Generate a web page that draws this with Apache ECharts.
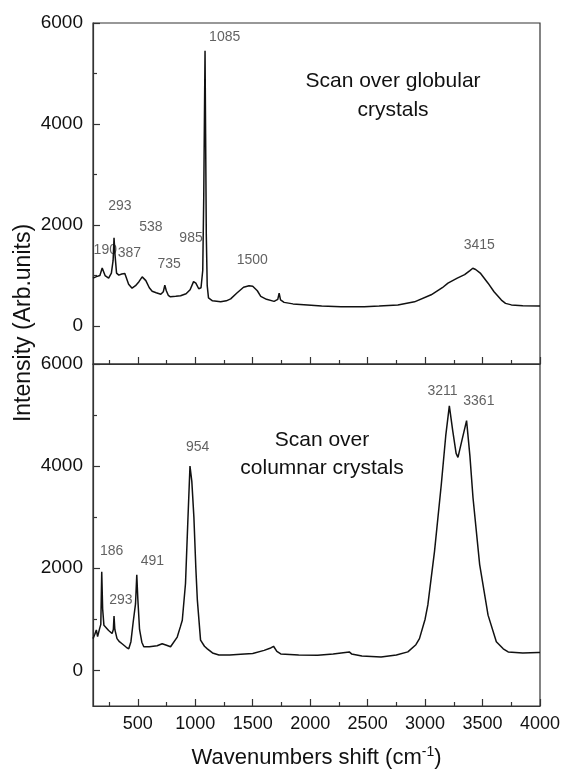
<!DOCTYPE html>
<html>
<head>
<meta charset="utf-8">
<title>Raman spectra</title>
<script src="https://cdn.jsdelivr.net/npm/echarts@6/dist/echarts.min.js"></script>
<style>
  html, body { margin: 0; padding: 0; background: #fff; }
  #chart { width: 562px; height: 775px; }
</style>
</head>
<body>
<div id="chart"></div>
<script>
// Raman spectrum, scan over globular crystals (wavenumber cm-1, intensity)
var globWave = [110, 140, 170, 190, 215, 246, 270, 285, 293, 302, 315, 335, 360, 387, 420, 450, 480, 510,
  538, 570, 600, 625, 660, 700, 722, 735, 748, 765, 784, 830, 872, 920, 955, 985, 1005, 1030, 1050,
  1065, 1074, 1080, 1085, 1090, 1096, 1104, 1115, 1150, 1221, 1270, 1308, 1360, 1420, 1468, 1500,
  1540, 1570, 1620, 1686, 1718, 1730, 1742, 1773, 1850, 1977, 2100, 2268, 2471, 2600, 2763, 2908,
  3053, 3150, 3199, 3280, 3344, 3390, 3415, 3440, 3480, 3548, 3600, 3664, 3700, 3751, 3850, 4000];
var globIntensity = [950, 980, 1000, 1150, 1000, 950, 1050, 1300, 1750, 1400, 1050, 1010, 1030, 1040, 830, 750, 800, 880,
  975, 900, 760, 690, 660, 630, 680, 810, 700, 610, 580, 590, 600, 640, 720, 880, 850, 740, 760,
  1100, 2600, 4200, 5450, 3800, 1800, 800, 560, 500, 480, 500, 540, 650, 770, 800, 790,
  700, 590, 530, 490, 530, 650, 520, 470, 440, 420, 400, 385, 385, 400, 420, 480,
  620, 760, 850, 950, 1020, 1100, 1145, 1120, 1050, 850, 680, 515, 450, 420, 405, 400];

// Raman spectrum, scan over columnar crystals
var colWave = [110, 125, 139, 150, 168, 178, 186, 194, 205, 220, 246, 276, 287, 293, 300, 319, 340, 363, 400,
  421, 440, 460, 480, 491, 500, 515, 535, 552, 600, 668, 712, 750, 785, 843, 870, 887, 915, 935, 954,
  970, 988, 1005, 1018, 1046, 1080, 1105, 1150, 1206, 1300, 1395, 1500, 1599, 1650, 1681, 1710, 1744,
  1900, 2065, 2200, 2340, 2360, 2450, 2617, 2750, 2850, 2920, 2951, 3000, 3024, 3082, 3141, 3180, 3211,
  3240, 3270, 3286, 3320, 3361, 3390, 3417, 3475, 3548, 3620, 3680, 3723, 3850, 3984, 4000];
var colIntensity = [620, 700, 790, 660, 820, 900, 1930, 1200, 880, 860, 780, 720, 800, 1060, 800, 620, 560, 520, 450,
  420, 560, 950, 1300, 1870, 1400, 800, 550, 460, 460, 480, 520, 490, 460, 650, 850, 980, 1700, 2900, 4000,
  3700, 3000, 2000, 1380, 590, 470, 420, 340, 300, 300, 315, 330, 390, 430, 470, 370, 320,
  300, 295, 320, 360, 320, 280, 260, 300, 360, 500, 620, 1000, 1280, 2330, 3640, 4600, 5180,
  4700, 4250, 4170, 4500, 4890, 4200, 3380, 2070, 1080, 560, 420, 360, 340, 350, 350];

// Peak annotations: text, and the anchor (wavenumber, intensity) of each text
var globPeakText = ['190', '293', '387', '538', '735', '985', '1085', '1500', '3415'];
var globPeakX = [217, 344, 427, 614, 773, 963, 1256, 1496, 3472];
var globPeakY = [1505, 2376, 1452, 1966, 1228, 1737, 5729, 1307, 1604];
var colPeakText = ['186', '293', '491', '954', '3211', '3361'];
var colPeakX = [272, 353, 627, 1020, 3151, 3468];
var colPeakY = [2329, 1378, 2132, 4364, 5478, 5270];

// Tick positions
var waveLabels = [500, 1000, 1500, 2000, 2500, 3000, 3500, 4000];
var waveMinor = [250, 750, 1250, 1750, 2250, 2750, 3250, 3750];
var intensityLabels = [0, 2000, 4000, 6000];
var intensityMinor = [1000, 3000, 5000];

var FONT = '"Liberation Sans", Arial, Helvetica, sans-serif';
var AXIS_COLOR = '#333';

function zip(xs, ys) {
  return xs.map(function (x, i) { return [x, ys[i]]; });
}
function labelPoints(texts, xs, ys) {
  return texts.map(function (t, i) { return { name: t, value: [xs[i], ys[i]] }; });
}
function plain(v) { return String(v); }

function xAxisPair(gridIndex, withLabels) {
  var major = {
    type: 'value', gridIndex: gridIndex, position: 'bottom', min: 110, max: 4000,
    axisLine: { show: true, onZero: false, lineStyle: { color: AXIS_COLOR, width: 1.2 } },
    axisTick: { show: true, inside: true, length: 7, customValues: waveLabels,
      lineStyle: { color: AXIS_COLOR, width: 1.2 } },
    axisLabel: { show: withLabels, customValues: waveLabels, formatter: plain, fontSize: 18,
      fontFamily: FONT, color: '#111', margin: 9 },
    splitLine: { show: false }
  };
  var minor = {
    type: 'value', gridIndex: gridIndex, position: 'bottom', min: 110, max: 4000,
    axisLine: { show: false, onZero: false },
    axisTick: { show: true, inside: true, length: 4, customValues: waveMinor,
      lineStyle: { color: AXIS_COLOR, width: 1.2 } },
    axisLabel: { show: false },
    splitLine: { show: false }
  };
  return [major, minor];
}

function yAxisPair(gridIndex, min) {
  var major = {
    type: 'value', gridIndex: gridIndex, position: 'left', min: min, max: 6000,
    axisLine: { show: true, onZero: false, lineStyle: { color: AXIS_COLOR, width: 1.2 } },
    axisTick: { show: true, inside: true, length: 7, customValues: intensityLabels,
      lineStyle: { color: AXIS_COLOR, width: 1.2 } },
    axisLabel: { show: true, customValues: intensityLabels, formatter: plain, fontSize: 19,
      fontFamily: FONT, color: '#111', margin: 10 },
    splitLine: { show: false }
  };
  var minor = {
    type: 'value', gridIndex: gridIndex, position: 'left', min: min, max: 6000,
    axisLine: { show: false, onZero: false },
    axisTick: { show: true, inside: true, length: 4, customValues: intensityMinor,
      lineStyle: { color: AXIS_COLOR, width: 1.2 } },
    axisLabel: { show: false },
    splitLine: { show: false }
  };
  return [major, minor];
}

var xAxes = xAxisPair(0, false).concat(xAxisPair(1, true));
xAxes[2].name = '{t|Wavenumbers shift (cm}{s|-1}{t|)}';
xAxes[2].nameLocation = 'middle';
xAxes[2].nameGap = 39;
xAxes[2].nameTextStyle = {
  rich: {
    t: { fontSize: 22, fontFamily: FONT, color: '#111', lineHeight: 25 },
    s: { fontSize: 14, fontFamily: FONT, color: '#111', verticalAlign: 'top', lineHeight: 14 }
  }
};

var yAxes = yAxisPair(0, -750).concat(yAxisPair(1, -700));

var peakLabelStyle = {
  show: true, position: 'inside', formatter: '{b}', color: '#3a3a3a',
  fontSize: 14, fontFamily: FONT
};

var chart = echarts.init(document.getElementById('chart'), null, { renderer: 'canvas' });
chart.setOption({
  animation: false,
  backgroundColor: '#fff',
  grid: [
    { left: 93, right: 22, top: 23, height: 341, show: true, borderColor: AXIS_COLOR, borderWidth: 1.2,
      outerBoundsMode: 'none', containLabel: false },
    { left: 93, right: 22, top: 364, height: 342, show: true, borderColor: AXIS_COLOR, borderWidth: 1.2,
      outerBoundsMode: 'none', containLabel: false }
  ],
  xAxis: xAxes,
  yAxis: yAxes,
  series: [
    {
      name: 'Globular crystals', type: 'line', xAxisIndex: 0, yAxisIndex: 0,
      data: zip(globWave, globIntensity), showSymbol: false, silent: true,
      lineStyle: { color: '#111', width: 1.5 }
    },
    {
      name: 'Columnar crystals', type: 'line', xAxisIndex: 2, yAxisIndex: 2,
      data: zip(colWave, colIntensity), showSymbol: false, silent: true,
      lineStyle: { color: '#111', width: 1.5 }
    },
    {
      type: 'scatter', xAxisIndex: 0, yAxisIndex: 0, symbolSize: 0, silent: true,
      data: labelPoints(globPeakText, globPeakX, globPeakY), label: peakLabelStyle
    },
    {
      type: 'scatter', xAxisIndex: 2, yAxisIndex: 2, symbolSize: 0, silent: true,
      data: labelPoints(colPeakText, colPeakX, colPeakY), label: peakLabelStyle
    }
  ],
  graphic: [
    { type: 'text', x: 393, y: 81, style: { text: 'Scan over globular', font: '21px ' + FONT,
      fill: '#111', align: 'center', verticalAlign: 'middle' } },
    { type: 'text', x: 393, y: 110, style: { text: 'crystals', font: '21px ' + FONT,
      fill: '#111', align: 'center', verticalAlign: 'middle' } },
    { type: 'text', x: 322, y: 440, style: { text: 'Scan over', font: '21px ' + FONT,
      fill: '#111', align: 'center', verticalAlign: 'middle' } },
    { type: 'text', x: 322, y: 468, style: { text: 'columnar crystals', font: '21px ' + FONT,
      fill: '#111', align: 'center', verticalAlign: 'middle' } },
    { type: 'text', x: 24, y: 323, rotation: Math.PI / 2, style: { text: 'Intensity (Arb.units)',
      font: '23px ' + FONT, fill: '#111', align: 'center', verticalAlign: 'middle' } }
  ]
});
</script>
</body>
</html>
